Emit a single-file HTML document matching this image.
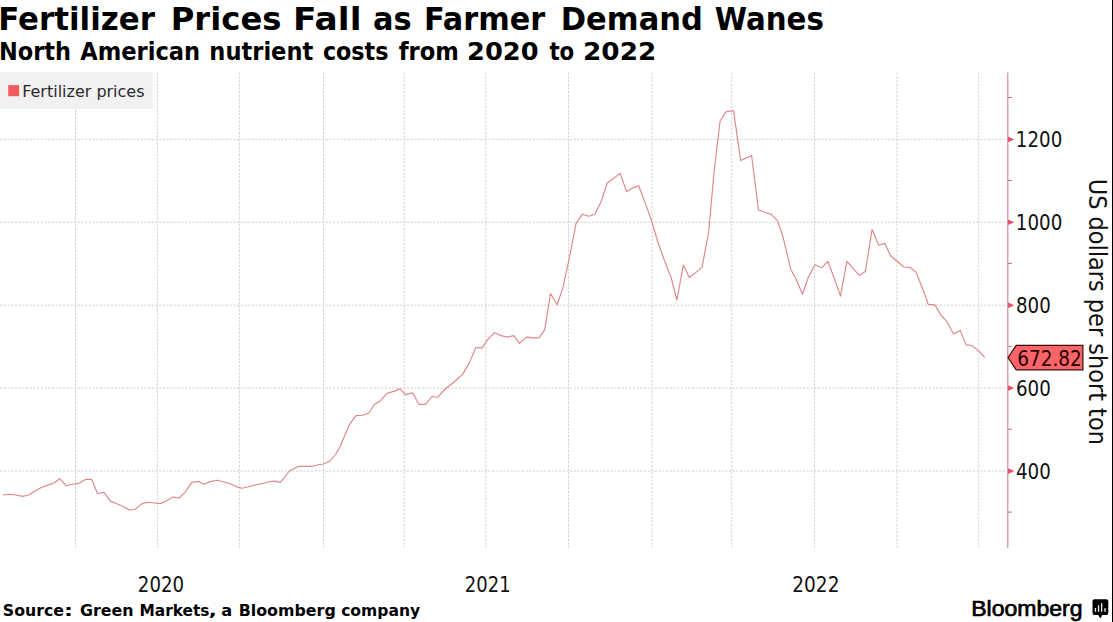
<!DOCTYPE html>
<html><head><meta charset="utf-8"><style>
html,body{margin:0;padding:0;background:#fff;}
body{width:1113px;height:622px;overflow:hidden;position:relative;}
svg{position:absolute;left:0;top:0;display:block;}
</style></head><body>
<svg width="1113" height="622" viewBox="0 0 1113 622">
<rect x="0" y="0" width="1113" height="622" fill="#fff"/>
<g font-family="DejaVu Sans, sans-serif" font-weight="bold" fill="#000">
<text x="-1.85" y="30.1" font-size="32.5" textLength="156.76" lengthAdjust="spacingAndGlyphs">Fertilizer</text>
<text x="170.73" y="30.1" font-size="32.5" textLength="110.7" lengthAdjust="spacingAndGlyphs">Prices</text>
<text x="293.12" y="30.1" font-size="32.5" textLength="68.34" lengthAdjust="spacingAndGlyphs">Fall</text>
<text x="373.06" y="30.1" font-size="32.5" textLength="38.64" lengthAdjust="spacingAndGlyphs">as</text>
<text x="423.91" y="30.1" font-size="32.5" textLength="121.28" lengthAdjust="spacingAndGlyphs">Farmer</text>
<text x="560.78" y="30.1" font-size="32.5" textLength="142.1" lengthAdjust="spacingAndGlyphs">Demand</text>
<text x="714.8" y="30.1" font-size="32.5" textLength="109.04" lengthAdjust="spacingAndGlyphs">Wanes</text>
<text x="-1.03" y="59.9" font-size="24.5" textLength="71.87" lengthAdjust="spacingAndGlyphs">North</text>
<text x="80.2" y="59.9" font-size="24.5" textLength="120.01" lengthAdjust="spacingAndGlyphs">American</text>
<text x="209.36" y="59.9" font-size="24.5" textLength="103.91" lengthAdjust="spacingAndGlyphs">nutrient</text>
<text x="322.89" y="59.9" font-size="24.5" textLength="65.63" lengthAdjust="spacingAndGlyphs">costs</text>
<text x="398.7" y="59.9" font-size="24.5" textLength="60.15" lengthAdjust="spacingAndGlyphs">from</text>
<text x="467.1" y="59.9" font-size="24.5" textLength="71.56" lengthAdjust="spacingAndGlyphs">2020</text>
<text x="549.4" y="59.9" font-size="24.5" textLength="24.77" lengthAdjust="spacingAndGlyphs">to</text>
<text x="583.05" y="59.9" font-size="24.5" textLength="73.21" lengthAdjust="spacingAndGlyphs">2022</text>
<text x="2.81" y="616.1" font-size="16" textLength="61.22" lengthAdjust="spacingAndGlyphs">Source</text>
<text x="63.9" y="616.1" font-size="16" textLength="8.97" lengthAdjust="spacingAndGlyphs">:</text>
<text x="79.91" y="616.1" font-size="16" textLength="53.6" lengthAdjust="spacingAndGlyphs">Green</text>
<text x="139.54" y="616.1" font-size="16" textLength="69.97" lengthAdjust="spacingAndGlyphs">Markets</text>
<text x="208.68" y="616.1" font-size="16" textLength="8.05" lengthAdjust="spacingAndGlyphs">,</text>
<text x="221.29" y="616.1" font-size="16" textLength="10.92" lengthAdjust="spacingAndGlyphs">a</text>
<text x="238.71" y="616.1" font-size="16" textLength="97.07" lengthAdjust="spacingAndGlyphs">Bloomberg</text>
<text x="341.13" y="616.1" font-size="16" textLength="78.99" lengthAdjust="spacingAndGlyphs">company</text>
</g>
<g stroke="#d0d0d0" stroke-width="1" stroke-dasharray="2.3,1.4" fill="none">
<line x1="75.5" y1="72.5" x2="75.5" y2="548"/>
<line x1="157.4" y1="72.5" x2="157.4" y2="548"/>
<line x1="239.4" y1="72.5" x2="239.4" y2="548"/>
<line x1="323.5" y1="72.5" x2="323.5" y2="548"/>
<line x1="404.2" y1="72.5" x2="404.2" y2="548"/>
<line x1="485.8" y1="72.5" x2="485.8" y2="548"/>
<line x1="568.5" y1="72.5" x2="568.5" y2="548"/>
<line x1="652.07" y1="72.5" x2="652.07" y2="548"/>
<line x1="731.7" y1="72.5" x2="731.7" y2="548"/>
<line x1="814.5" y1="72.5" x2="814.5" y2="548"/>
<line x1="897.05" y1="72.5" x2="897.05" y2="548"/>
<line x1="978.7" y1="72.5" x2="978.7" y2="548"/>
<line x1="0" y1="139.38" x2="1007" y2="139.38"/>
<line x1="0" y1="222.3" x2="1007" y2="222.3"/>
<line x1="0" y1="305.22" x2="1007" y2="305.22"/>
<line x1="0" y1="388.14" x2="1007" y2="388.14"/>
<line x1="0" y1="471.06" x2="1007" y2="471.06"/>
</g>
<rect x="0" y="72.3" width="152.7" height="36.6" fill="#efefef" fill-opacity="0.9"/>
<rect x="8.2" y="85.1" width="10.9" height="11.1" fill="#f25c5f"/>
<g font-family="DejaVu Sans Condensed, DejaVu Sans, sans-serif" font-stretch="condensed" fill="#2a2a2a"><text x="22.32" y="97" font-size="16.5" textLength="122.22" lengthAdjust="spacingAndGlyphs" >Fertilizer prices</text></g>
<path d="M2.9,495.0 L9.3,494.2 L15.2,495.0 L22.8,496.4 L29.2,494.8 L35.0,491.0 L40.9,487.8 L47.9,485.1 L54.3,482.8 L59.6,478.7 L66.0,485.7 L72.4,484.2 L78.3,483.4 L85.9,479.3 L91.7,479.3 L97.5,493.5 L104.0,492.4 L110.4,501.1 L116.8,503.8 L124.7,507.3 L129.9,510.2 L135.2,509.3 L142.2,503.6 L148.0,502.3 L155.0,503.0 L160.3,503.6 L167.3,500.5 L173.2,497.1 L179.0,498.0 L184.8,492.7 L191.8,482.4 L198.9,481.4 L204.1,484.2 L210.0,481.6 L217.0,480.2 L223.4,481.8 L230.4,483.7 L236.2,486.6 L242.1,488.3 L249.3,486.5 L256.4,484.7 L263.4,483.2 L270.4,481.5 L275.0,481.1 L280.3,482.4 L284.4,477.4 L289.0,471.5 L293.7,468.6 L299.0,466.3 L305.4,466.3 L312.4,466.3 L318.3,464.8 L323.5,464.0 L330.0,461.0 L335.8,454.0 L340.5,445.8 L343.0,439.5 L349.5,424.3 L356.0,415.6 L362.6,415.2 L369.1,413.0 L374.2,404.7 L380.7,400.4 L387.2,393.2 L393.7,391.4 L400.2,388.8 L405.3,394.6 L412.5,392.9 L419.0,404.3 L425.5,404.3 L432.0,396.5 L437.8,397.2 L445.8,388.5 L453.0,383.0 L462.7,374.1 L469.5,362.6 L475.8,347.5 L482.0,348.1 L487.8,339.4 L494.5,332.7 L501.3,335.6 L507.1,337.1 L513.8,335.6 L519.6,343.3 L526.4,337.1 L533.1,337.9 L538.9,337.9 L544.7,329.8 L550.5,293.5 L557.2,304.7 L563.0,287.4 L569.6,256.5 L576.2,222.9 L582.4,214.3 L588.6,216.2 L594.8,214.2 L601.0,202.1 L607.2,183.0 L613.4,178.5 L620.1,173.4 L626.6,191.8 L632.5,188.1 L638.7,185.8 L644.9,202.1 L651.0,219.0 L658.0,242.5 L665.0,262.0 L671.2,277.9 L676.9,300.0 L683.3,265.1 L689.3,277.5 L695.7,272.6 L702.0,267.4 L708.5,233.0 L714.3,170.0 L720.1,121.0 L726.4,111.6 L733.6,110.8 L740.6,160.6 L746.2,158.0 L751.6,155.4 L758.5,210.0 L765.0,212.3 L771.2,214.4 L777.4,220.6 L782.7,235.7 L787.1,254.2 L790.7,269.2 L796.3,279.5 L802.5,294.3 L808.3,277.2 L815.0,264.8 L821.6,267.8 L827.8,261.3 L834.5,279.0 L840.5,296.1 L846.9,261.3 L853.0,268.3 L859.2,275.4 L865.3,271.4 L872.1,229.6 L878.8,245.3 L884.8,243.4 L890.6,255.7 L897.4,261.5 L903.9,267.0 L910.2,267.5 L916.0,271.9 L922.2,287.5 L928.3,304.4 L934.8,304.9 L941.5,316.0 L946.8,321.3 L953.6,334.1 L960.3,330.4 L966.1,344.9 L972.0,345.5 L978.6,350.9 L984.6,357.4" fill="none" stroke="#df868b" stroke-width="1.15" stroke-linejoin="round"/>
<line x1="1007.8" y1="72.4" x2="1007.8" y2="548" stroke="#cc8088" stroke-width="1.1"/>
<polygon points="1008,136.6 1014.3,139.4 1008,142.2" fill="#e8506a"/><polygon points="1008,219.5 1014.3,222.3 1008,225.1" fill="#e8506a"/><polygon points="1008,302.4 1014.3,305.2 1008,308.0" fill="#e8506a"/><polygon points="1008,385.3 1014.3,388.1 1008,390.9" fill="#e8506a"/><polygon points="1008,468.3 1014.3,471.1 1008,473.9" fill="#e8506a"/><line x1="1008" y1="97.52" x2="1012" y2="97.52" stroke="#b07070" stroke-width="1"/><line x1="1008" y1="180.44" x2="1012" y2="180.44" stroke="#b07070" stroke-width="1"/><line x1="1008" y1="263.36" x2="1012" y2="263.36" stroke="#b07070" stroke-width="1"/><line x1="1008" y1="346.28" x2="1012" y2="346.28" stroke="#b07070" stroke-width="1"/><line x1="1008" y1="429.2" x2="1012" y2="429.2" stroke="#b07070" stroke-width="1"/><line x1="1008" y1="512.12" x2="1012" y2="512.12" stroke="#b07070" stroke-width="1"/>
<g font-family="DejaVu Sans Condensed, DejaVu Sans, sans-serif" font-stretch="condensed" fill="#111">
<text x="1015.87" y="146.9" font-size="21" textLength="46.40" lengthAdjust="spacingAndGlyphs">1200</text><text x="1015.87" y="229.8" font-size="21" textLength="46.40" lengthAdjust="spacingAndGlyphs">1000</text><text x="1016.03" y="312.7" font-size="21" textLength="34.80" lengthAdjust="spacingAndGlyphs">800</text><text x="1016.03" y="395.6" font-size="21" textLength="34.80" lengthAdjust="spacingAndGlyphs">600</text><text x="1016.03" y="478.6" font-size="21" textLength="34.80" lengthAdjust="spacingAndGlyphs">400</text>
<text x="137.84" y="592.3" font-size="21" textLength="46.2" lengthAdjust="spacingAndGlyphs" >2020</text>
<text x="464.85" y="592.3" font-size="21" textLength="45.78" lengthAdjust="spacingAndGlyphs" >2021</text>
<text x="792.32" y="592.3" font-size="21" textLength="47.12" lengthAdjust="spacingAndGlyphs" >2022</text>
</g>
<polygon points="1008,357.5 1016.2,345.3 1082.9,345.3 1082.9,369.8 1016.2,369.8" fill="#fb6468" stroke="#3a0c0c" stroke-width="1.2"/>
<g font-family="DejaVu Sans Condensed, DejaVu Sans, sans-serif" font-stretch="condensed" fill="#2b0000"><text x="1017.22" y="365.7" font-size="21" textLength="64.62" lengthAdjust="spacingAndGlyphs" >672.82</text></g>
<text transform="translate(1088.6,178.72) rotate(90)" font-family="DejaVu Sans Condensed, DejaVu Sans, sans-serif" font-stretch="condensed" font-size="24" fill="#111" textLength="266.18" lengthAdjust="spacingAndGlyphs">US dollars per short ton</text>
<text x="971.2" y="615.6" font-family="Liberation Sans, sans-serif" font-weight="normal" font-size="22.3" fill="#000" stroke="#000" stroke-width="0.7" textLength="111.3" lengthAdjust="spacingAndGlyphs">Bloomberg</text>
<g>
<path d="M1094.5,599.3 h11.8 a2,2 0 0 1 2,2 v11.8 a2,2 0 0 1 -2,2 h-4 l-2,3.3 l-2,-3.3 h-3.8 a2,2 0 0 1 -2,-2 v-11.8 a2,2 0 0 1 2,-2 z" fill="#000"/>
<g fill="#e8e8e8">
<rect x="1094.8" y="608" width="1.3" height="3.8"/>
<rect x="1097.9" y="605.1" width="1.3" height="6.7"/>
<rect x="1101" y="603.1" width="1.3" height="8.7"/>
<rect x="1104.3" y="608.2" width="1.4" height="3.6"/>
</g>
</g>
<rect x="1112" y="0" width="1" height="622" fill="#000"/>
</svg>
</body></html>
